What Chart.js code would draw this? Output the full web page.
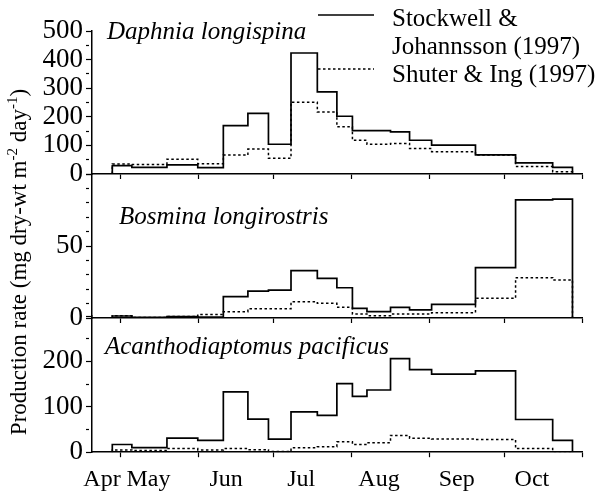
<!DOCTYPE html>
<html>
<head>
<meta charset="utf-8">
<script src="https://cdn.jsdelivr.net/npm/chart.js@4.4.0/dist/chart.umd.min.js"></script>
<style>
  html, body { margin: 0; padding: 0; background: #fff; overflow: hidden; }
  #wrap { position: relative; width: 603px; height: 492px; overflow: hidden;
          font-family: "Liberation Serif", "Times New Roman", serif; color: #000; }
  #wrap canvas { position: absolute; left: 0; top: 0; }
  .title { position: absolute; font-style: italic; font-size: 25px; line-height: 1; white-space: nowrap; }
  #ytitle { position: absolute; left: -161px; top: 249px; width: 360px; text-align: center;
            font-size: 23px; line-height: 26px; white-space: nowrap; transform: rotate(-90deg); }
  #ytitle sup { font-size: 15px; line-height: 0; }
  #legend { position: absolute; left: 392px; top: 4px; font-size: 25px; line-height: 28px; white-space: nowrap; }
  .key { position: absolute; left: 318px; }
</style>
</head>
<body>
<div id="wrap">
  <canvas id="c1" width="603" height="492"></canvas>
  <canvas id="c2" width="603" height="492"></canvas>
  <canvas id="c3" width="603" height="510"></canvas>

  <div class="title" style="left:107px; top:18px;">Daphnia longispina</div>
  <div class="title" style="left:119px; top:203px;">Bosmina longirostris</div>
  <div class="title" style="left:105px; top:333px;">Acanthodiaptomus pacificus</div>

  <div id="ytitle">Production rate (mg dry-wt m<sup>-2</sup> day<sup>-1</sup>)</div>

  <svg class="key" style="top:10px;" width="56" height="10"><line x1="0" y1="5" x2="56" y2="5" stroke="#000" stroke-width="1.5"/></svg>
  <svg class="key" style="top:64px;" width="56" height="10"><line x1="0" y1="5" x2="56" y2="5" stroke="#000" stroke-width="1.5" stroke-dasharray="2.5 2.5"/></svg>
  <div id="legend">Stockwell &amp;<br>Johannsson (1997)<br>Shuter &amp; Ing (1997)</div>
</div>

<script>
// interval edges, days after 1 April
const edges = [26.6, 34.4, 48.4, 60.7, 70.9, 80.7, 88.9, 97.9, 108.4, 116.2, 122.4, 128.2, 137.6, 145.2, 154.0, 171.5, 187.5, 202.3, 210.2];

const daphniaStockwell = [29, 23, 32, 22, 169, 212, 104, 423, 287, 202, 152, 152, 147, 118, 101, 67, 39, 23];
const daphniaShuter    = [35, 33, 52, 36, 66, 87, 55, 251, 217, 165, 118, 104, 107, 89, 78, 66, 26, 8];
const bosminaStockwell = [1.4, 0.5, 1, 0.6, 14.8, 18.7, 19.4, 32.9, 27.5, 21, 6.7, 4.4, 7.4, 5.6, 9.5, 35, 82, 82.6];
const bosminaShuter    = [1.5, 0.3, 1, 2.5, 4.4, 6.5, 6.5, 11.3, 10.2, 7.4, 2.8, 1.6, 2.8, 2.8, 3.7, 13.7, 28, 26.4];
const acanthoStockwell = [17, 10, 31, 26, 133, 73, 29, 89, 81, 151, 123, 137, 206, 182, 172, 179, 72, 26];
const acanthoShuter    = [5, 3.5, 8, 5, 8, 5.5, 1.5, 10, 12, 23, 17, 21, 37, 31, 29, 28, 8, 1];

const monthNames  = ['Apr', 'May', 'Jun', 'Jul', 'Aug', 'Sep', 'Oct'];
const monthStarts = [0, 30, 61, 91, 122, 153, 183, 214];

const X_MIN = 18.5;
const X_MAX = 214;
const FONT = "'Liberation Serif', 'Times New Roman', serif";

// value i holds from edges[i] to edges[i+1]
function stepPoints(values) {
    const pts = [{ x: edges[0], y: 0 }];
    values.forEach((v, i) => pts.push({ x: edges[i], y: v }));
    pts.push({ x: edges[edges.length - 1], y: 0 });
    return pts;
}

function makePanel(id, p) {
    const scales = {
        x: {
            type: 'linear', min: X_MIN, max: X_MAX,
            afterBuildTicks: s => { s.ticks = monthStarts.slice(1).map(v => ({ value: v })); },
            ticks: { display: false },
            grid: { drawOnChartArea: false, tickLength: 5, tickColor: '#000', tickWidth: 1.2 },
            border: { color: '#000', width: 1.5 }
        },
        y: {
            min: 0, max: p.max,
            afterFit: s => { s.width = 92; },
            ticks: {
                stepSize: p.minor, autoSkip: false, color: '#000', padding: 3,
                font: { family: FONT, size: 27 },
                callback: v => (v % p.major === 0 && v <= p.lastLabel) ? v : ''
            },
            grid: {
                drawOnChartArea: false, tickLength: 6, tickColor: '#000', tickWidth: 1.2,
                tickBorderDash: ctx => (ctx.tick && ctx.tick.value % p.major === 0) ? [] : [3, 20]
            },
            border: { color: '#000', width: 1.5 }
        }
    };

    if (p.labels) {
        scales.xm = {
            type: 'linear', position: 'bottom', min: X_MIN, max: X_MAX,
            afterBuildTicks: s => {
                s.ticks = monthNames.map((m, i) => ({ value: Math.max(monthStarts[i] + 11, X_MIN + 4) }));
            },
            ticks: {
                autoSkip: false, maxRotation: 0, padding: 0, color: '#000',
                font: { family: FONT, size: 24 },
                callback: (v, i) => monthNames[i]
            },
            grid: { display: false },
            border: { display: false }
        };
    }

    return new Chart(document.getElementById(id), {
        type: 'line',
        data: {
            datasets: [{
                label: 'Stockwell & Johannsson (1997)',
                data: stepPoints(p.solid), xAxisID: 'x', yAxisID: 'y',
                stepped: 'before', borderColor: '#000', borderWidth: 1.7,
                pointRadius: 0, fill: false
            }, {
                label: 'Shuter & Ing (1997)',
                data: stepPoints(p.dotted), xAxisID: 'x', yAxisID: 'y',
                stepped: 'before', borderColor: '#000', borderWidth: 1.5, borderDash: [2.5, 2.5],
                pointRadius: 0, fill: false
            }]
        },
        options: {
            responsive: false,
            animation: false,
            layout: { padding: { top: p.top, bottom: p.bottom, left: 0, right: 21 } },
            plugins: { legend: { display: false }, tooltip: { enabled: false } },
            scales: scales
        }
    });
}

makePanel('c1', { solid: daphniaStockwell, dotted: daphniaShuter, max: 500, minor: 50, major: 100, lastLabel: 500, top: 31, bottom: 313 });
makePanel('c2', { solid: bosminaStockwell, dotted: bosminaShuter, max: 100, minor: 10, major: 50, lastLabel: 50, top: 174, bottom: 169 });
makePanel('c3', { solid: acanthoStockwell, dotted: acanthoShuter, max: 300, minor: 50, major: 100, lastLabel: 200, top: 316, bottom: 16, labels: true });
</script>
</body>
</html>
